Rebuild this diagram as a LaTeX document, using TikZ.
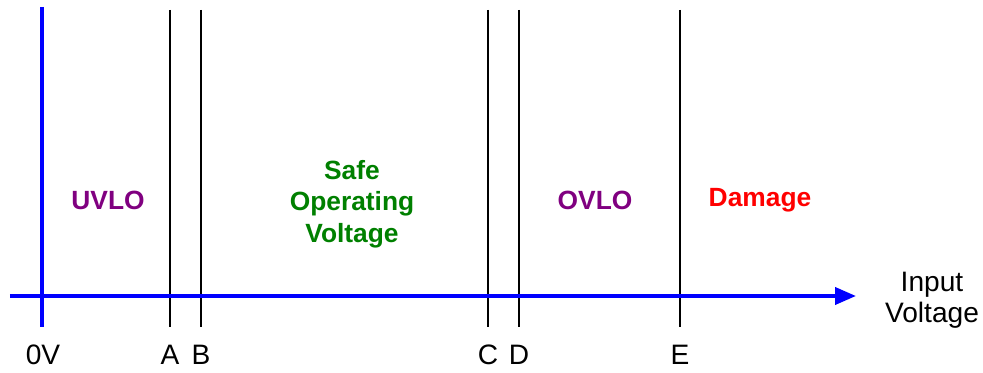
\documentclass[tikz,border=0pt]{standalone}
\usepackage{fontspec}
\setmainfont{Liberation Sans}
\usetikzlibrary{arrows.meta}
\definecolor{zonepurple}{RGB}{128,0,128}
\definecolor{zonegreen}{RGB}{0,128,0}

\begin{document}
\begin{tikzpicture}
    \useasboundingbox (0,0) rectangle (19.66,7.46);
    \tikzset{
      level/.style={black,line width=0.6pt},
      axis/.style={blue,line width=2.2pt},
      tick/.style={font=\fontsize{16}{18}\selectfont,inner sep=1pt},
      zone/.style={font=\fontsize{15}{18}\selectfont\bfseries,align=center}
    }
    
    \newcommand{\AXY}{1.54}
    \newcommand{\TOPY}{7.26}
    \newcommand{\BOTY}{0.92}
    
    % threshold lines and their names
    \foreach \name/\xpos in {A/3.4,B/4.02,C/9.76,D/10.38,E/13.6} {
      \coordinate (top\name) at (\xpos,\TOPY);
      \coordinate (bot\name) at (\xpos,\BOTY);
      \node[tick] (lbl\name) at (\xpos,0.36) {\name};
      \draw[level] (top\name) -- (bot\name);
    }
    
    % axes
    \coordinate (zeroTop) at (0.84,7.32);
    \coordinate (zeroBot) at (0.84,\BOTY);
    \coordinate (axStart) at (0.2,\AXY);
    \coordinate (axEnd) at (17.12,\AXY);
    \node[tick] (lblZero) at (0.86,0.36) {0V};
    \draw[axis] (zeroTop) -- (zeroBot);
    \draw[axis,-{Triangle[length=0.42cm,width=0.34cm]}] (axStart) -- (axEnd);
    \node[tick,align=center,font=\fontsize{16}{17.6}\selectfont] (input) at (18.64,1.46) {Input\\Voltage};
    
    % zones
    \node[zone,zonepurple] (uvlo) at (2.16,3.46) {UVLO};
    \node[zone,zonegreen] (safe) at (7.04,3.38) {Safe\\Operating\\Voltage};
    \node[zone,zonepurple] (ovlo) at (11.9,3.46) {OVLO};
    \node[zone,red] (damage) at (15.2,3.46) {Damage};
  \end{tikzpicture}
\end{document}
